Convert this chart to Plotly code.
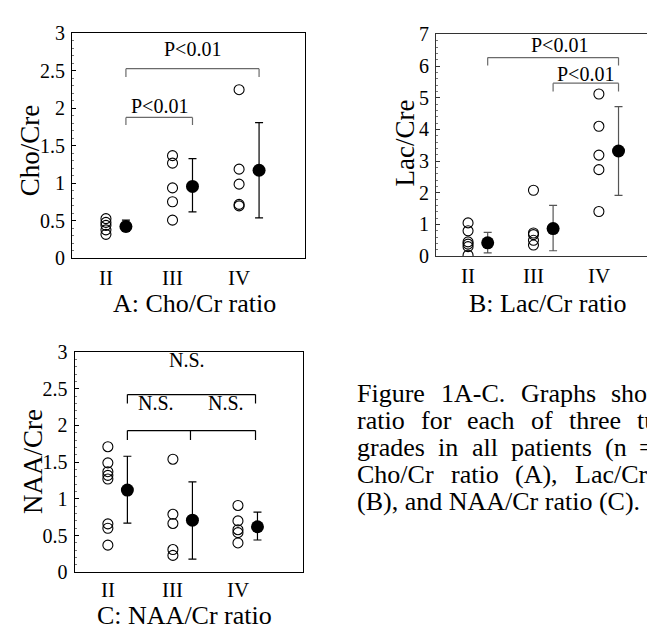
import plotly.graph_objects as go

FONT = "Liberation Serif, Times New Roman, serif"

# ---------------- data ----------------
grades = ["II", "III", "IV"]

# Panel A: Cho/Cre
cho_ii = [0.53, 0.48, 0.44, 0.38, 0.32]
cho_iii = [1.37, 1.27, 0.94, 0.755, 0.51]
cho_iv = [2.25, 1.19, 0.99, 0.72, 0.70]
cho_mean = [0.425, 0.96, 1.175]
cho_upper = [0.51, 1.33, 1.81]
cho_lower = [0.36, 0.62, 0.54]

# Panel B: Lac/Cre
lac_ii = [1.05, 0.80, 0.45, 0.38, 0.30, 0.03]
lac_iii = [2.08, 0.73, 0.68, 0.50, 0.35]
lac_iv = [5.12, 4.10, 3.19, 2.73, 1.41]
lac_mean = [0.42, 0.87, 3.32]
lac_upper = [0.75, 1.60, 4.72]
lac_lower = [0.10, 0.17, 1.92]

# Panel C: NAA/Cre
naa_ii = [1.71, 1.49, 1.37, 1.32, 1.27, 0.66, 0.60, 0.37]
naa_iii = [1.54, 0.79, 0.665, 0.31, 0.23]
naa_iv = [0.91, 0.70, 0.58, 0.54, 0.40]
naa_mean = [1.12, 0.71, 0.62]
naa_upper = [1.58, 1.23, 0.82]
naa_lower = [0.67, 0.18, 0.44]

# significance brackets: (x positions of drops, bar height, drop end)
cho_brackets = [([1.3, 3.3], 2.53, 2.42), ([1.3, 2.3], 1.88, 1.78)]
cho_labels = [("P<0.01", 2.3, 2.79), ("P<0.01", 1.8, 2.03)]
lac_brackets = [([1.3, 3.3], 6.27, 6.02), ([2.3, 3.3], 5.46, 5.20)]
lac_labels = [("P<0.01", 2.4, 6.68), ("P<0.01", 2.8, 5.74)]
naa_brackets = [([1.3, 3.27], 2.42, 2.30), ([1.3, 2.27, 3.27], 1.93, 1.80)]
naa_labels = [("N.S.", 2.22, 2.89), ("N.S.", 1.74, 2.30), ("N.S.", 2.82, 2.30)]

caption_lines = [
    ["Figure", "1A-C.", "Graphs", "show"],
    ["ratio", "for", "each", "of", "three", "tu"],
    ["grades", "in", "all", "patients", "(n", "="],
    ["Cho/Cr", "ratio", "(A),", "Lac/Cr"],
    ["(B), and NAA/Cr ratio (C)."],
]
caption_x = [
    [347, 431, 511, 601],
    [347, 411, 457, 521, 559, 627],
    [347, 428, 461.5, 501, 595, 629],
    [347, 440.5, 505, 564.5],
    [347],
]

MEAN_OFFSET = 0.3

fig = go.Figure()


def add_panel(fig, groups, mean, upper, lower, xref, yref, err_color):
    for i, vals in enumerate(groups):
        fig.add_trace(go.Scatter(
            x=[i + 1] * len(vals), y=vals, mode="markers",
            marker=dict(symbol="circle-open", size=10, color="black",
                        line=dict(width=1.1, color="black")),
            xaxis=xref, yaxis=yref, showlegend=False, hoverinfo="skip"))
    fig.add_trace(go.Scatter(
        x=[i + 1 + MEAN_OFFSET for i in range(len(mean))], y=mean,
        mode="markers",
        marker=dict(symbol="circle", size=13, color="black"),
        error_y=dict(type="data", symmetric=False,
                     array=[u - m for u, m in zip(upper, mean)],
                     arrayminus=[m - l for m, l in zip(mean, lower)],
                     color=err_color, thickness=1.2, width=4),
        xaxis=xref, yaxis=yref, showlegend=False, hoverinfo="skip"))


def add_brackets(fig, brackets, labels, xref, yref, color):
    for xs, top, drop in brackets:
        fig.add_trace(go.Scatter(x=[xs[0], xs[-1]], y=[top, top], mode="lines",
                                 line=dict(color=color, width=1.2),
                                 xaxis=xref, yaxis=yref, showlegend=False,
                                 hoverinfo="skip"))
        for xv in xs:
            fig.add_trace(go.Scatter(x=[xv, xv], y=[top, drop], mode="lines",
                                     line=dict(color=color, width=1.2),
                                     xaxis=xref, yaxis=yref, showlegend=False,
                                     hoverinfo="skip"))
    for txt, xv, yv in labels:
        fig.add_annotation(x=xv, y=yv, xref=xref, yref=yref, text=txt,
                           showarrow=False, xanchor="center", yanchor="middle",
                           font=dict(family=FONT, size=20, color="black"))


add_panel(fig, [cho_ii, cho_iii, cho_iv], cho_mean, cho_upper, cho_lower, "x", "y", "black")
add_brackets(fig, cho_brackets, cho_labels, "x", "y", "#6a6a6a")
add_panel(fig, [lac_ii, lac_iii, lac_iv], lac_mean, lac_upper, lac_lower, "x2", "y2", "#555555")
add_brackets(fig, lac_brackets, lac_labels, "x2", "y2", "#6a6a6a")
add_panel(fig, [naa_ii, naa_iii, naa_iv], naa_mean, naa_upper, naa_lower, "x3", "y3", "black")
add_brackets(fig, naa_brackets, naa_labels, "x3", "y3", "black")

W, H = 655, 631


def xaxis(dom, rng, mirror, anchor, color="black"):
    return dict(domain=dom, range=rng, anchor=anchor, tickvals=[1, 2, 3],
                showticklabels=False,
                showline=True, linecolor=color, linewidth=1.2, mirror=mirror,
                ticks="", showgrid=False, zeroline=False, fixedrange=True)


def yaxis(dom, rng, dtick, mdtick, mirror, anchor, color="black"):
    return dict(domain=dom, range=rng, anchor=anchor, dtick=dtick, tick0=0,
                showline=True, linecolor=color, linewidth=1.2, mirror=mirror,
                ticks="inside", ticklen=4, tickcolor=color,
                minor=dict(ticks="inside", ticklen=2, dtick=mdtick, tickcolor="#777777"),
                showgrid=False, zeroline=False,
                tickfont=dict(family=FONT, size=20, color="black"),
                ticklabelstandoff=2, fixedrange=True)


fig.update_layout(
    width=W, height=H, margin=dict(l=0, r=0, t=0, b=0),
    paper_bgcolor="white", plot_bgcolor="white", showlegend=False,
    xaxis=xaxis([64 / W, 297 / W], [0.49, 3.99], True, "y"),
    yaxis=yaxis([1 - 248 / H, 1 - 15 / H], [0, 3], 0.5, 0.1, True, "x"),
    xaxis2=xaxis([428 / W, 1.0], [0.51, 3.98], True, "y2", "#333333"),
    yaxis2=yaxis([1 - 245.7 / H, 1 - 16 / H], [0, 7], 1, 0.2, False, "x2", "#333333"),
    xaxis3=xaxis([66.7 / W, 295 / W], [0.49, 4.0], True, "y3"),
    yaxis3=yaxis([1 - 573.3 / H, 1 - 345 / H], [0, 3], 0.5, 0.1, True, "x3"),
)

# category labels under each panel's x axis
for xref, yp in [("x", 268), ("x2", 266), ("x3", 592)]:
    for i, g in enumerate(grades):
        fig.add_annotation(x=i + 1, y=1 - yp / H, xref=xref, yref="paper", text=g,
                           showarrow=False, xanchor="center", yanchor="middle",
                           font=dict(family=FONT, size=21, color="black"))

# axis titles
for txt, xp, yp in [("Cho/Cre", 22, 136), ("Lac/Cre", 397, 129), ("NAA/Cre", 25, 459)]:
    fig.add_annotation(x=xp / W, y=1 - yp / H, xref="paper", yref="paper", text=txt,
                       textangle=-90, showarrow=False, xanchor="center", yanchor="middle",
                       font=dict(family=FONT, size=27, color="black"))

# panel labels
for txt, xp, yp in [("A: Cho/Cr ratio", 186, 295), ("B: Lac/Cr ratio", 539, 295),
                    ("C: NAA/Cr ratio", 176, 618)]:
    fig.add_annotation(x=xp / W, y=1 - yp / H, xref="paper", yref="paper", text=txt,
                       showarrow=False, xanchor="center", yanchor="middle",
                       font=dict(family=FONT, size=26, color="black"))

# caption (justified by word placement)
for li, (words, xs) in enumerate(zip(caption_lines, caption_x)):
    yc = 388 + li * 28
    for w, xp in zip(words, xs):
        fig.add_annotation(x=xp / W, y=1 - yc / H, xref="paper", yref="paper", text=w,
                           showarrow=False, xanchor="left", yanchor="middle",
                           font=dict(family=FONT, size=26, color="black"))

fig.write_html("out.html")
